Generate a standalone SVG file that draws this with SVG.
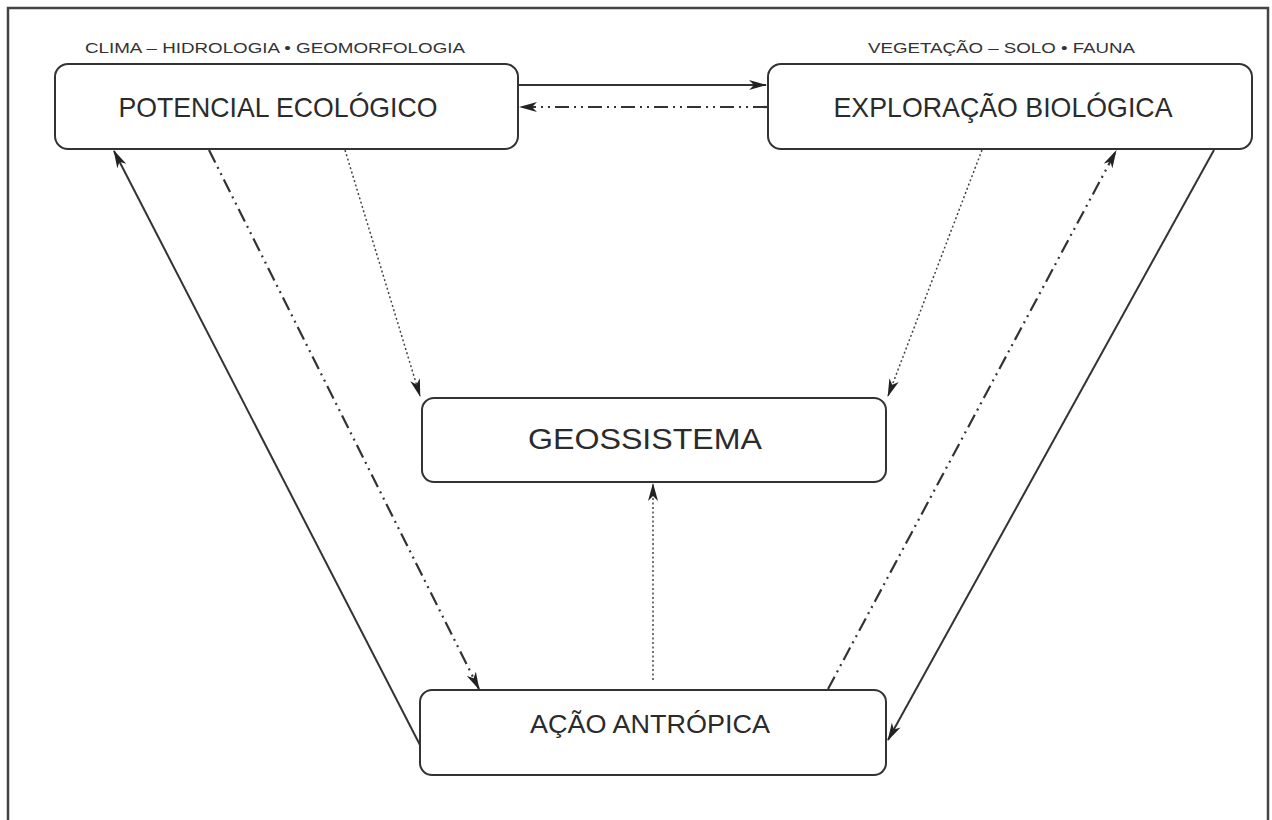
<svg xmlns="http://www.w3.org/2000/svg" width="1272" height="820" viewBox="0 0 1272 820">
<style>
.box{fill:#fff;stroke:#333;stroke-width:2}
.lbl{font-family:"Liberation Sans",Arial,sans-serif;fill:#2b2b2b;text-anchor:middle}
.cap{font-family:"Liberation Sans",Arial,sans-serif;fill:#333;font-size:15.5px}
.c{fill:none;stroke:#333}
.solid{stroke-width:2}
.dd{stroke-width:2.2;stroke-dasharray:14 5 2 5 2 5}
.dot{stroke-width:1.5;stroke-dasharray:2 2.5;stroke:#444}
</style>
<defs>
<marker id="ah" viewBox="0 0 18 10" refX="17" refY="5" markerWidth="18" markerHeight="10" markerUnits="userSpaceOnUse" orient="auto">
<path d="M0,0 L18,5 L0,10 L5,5 z" fill="#222"/>
</marker>
</defs>
<rect x="0" y="0" width="1272" height="820" fill="#fff"/>
<rect x="8" y="8" width="1260" height="840" fill="none" stroke="#444" stroke-width="2.5"/>

<g id="potencial">
<text class="cap" x="85" y="53" textLength="380" lengthAdjust="spacingAndGlyphs">CLIMA – HIDROLOGIA • GEOMORFOLOGIA</text>
<rect class="box" x="55" y="64" width="463" height="85" rx="13"/>
<text class="lbl" x="278" y="117" font-size="28" textLength="319" lengthAdjust="spacingAndGlyphs">POTENCIAL ECOLÓGICO</text>
</g>
<g id="exploracao">
<text class="cap" x="868" y="53" textLength="267" lengthAdjust="spacingAndGlyphs">VEGETAÇÃO – SOLO • FAUNA</text>
<rect class="box" x="768" y="64" width="484" height="85" rx="13"/>
<text class="lbl" x="1003" y="117" font-size="28" textLength="339" lengthAdjust="spacingAndGlyphs">EXPLORAÇÃO BIOLÓGICA</text>
</g>
<g id="geossistema">
<rect class="box" x="422" y="398" width="464" height="84" rx="12"/>
<text class="lbl" x="645" y="449" font-size="30" textLength="234" lengthAdjust="spacingAndGlyphs">GEOSSISTEMA</text>
</g>
<g id="acao">
<rect class="box" x="420" y="690" width="466" height="85" rx="12"/>
<text class="lbl" x="650" y="733" font-size="25" textLength="240" lengthAdjust="spacingAndGlyphs">AÇÃO ANTRÓPICA</text>
</g>

<g id="connectors">
<line class="c solid" x1="519" y1="85" x2="766" y2="85" marker-end="url(#ah)"/>
<line class="c dd" x1="767" y1="107" x2="520" y2="107" marker-end="url(#ah)"/>
<line class="c solid" x1="420" y1="745" x2="114" y2="151" marker-end="url(#ah)"/>
<line class="c dd" x1="209" y1="150" x2="479" y2="689" marker-end="url(#ah)"/>
<line class="c dot" x1="345" y1="150" x2="420" y2="396" marker-end="url(#ah)"/>
<line class="c dot" x1="982" y1="150" x2="888" y2="396" marker-end="url(#ah)"/>
<line class="c dd" x1="828" y1="689" x2="1116" y2="151" marker-end="url(#ah)"/>
<line class="c solid" x1="1214" y1="150" x2="888" y2="740" marker-end="url(#ah)"/>
<line class="c dot" x1="653" y1="680" x2="653" y2="484" marker-end="url(#ah)"/>
</g>
</svg>
